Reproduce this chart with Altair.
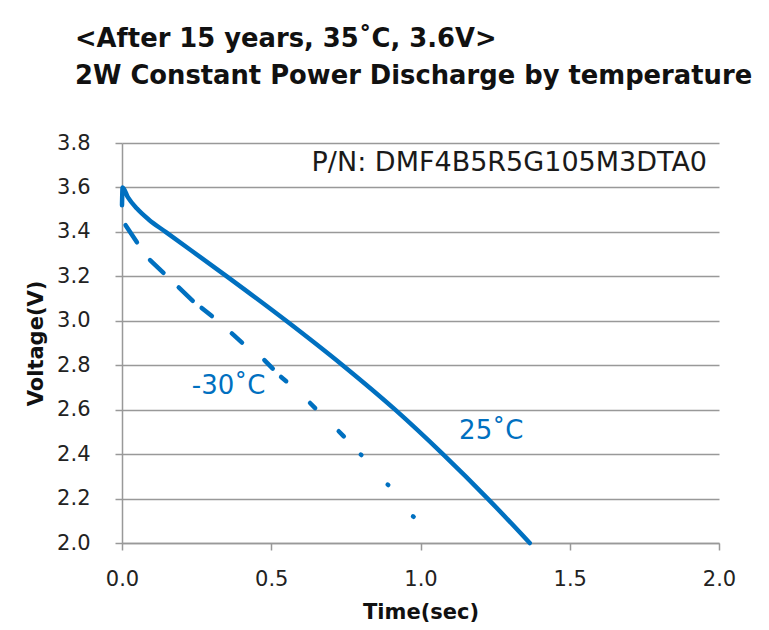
import altair as alt
import pandas as pd

# 25 C curve (time s, voltage V)
t25 = [0.0, 0.002, 0.02, 0.05, 0.09, 0.146, 0.351, 0.550, 0.739, 0.915, 1.075, 1.225, 1.366]
v25 = [3.52, 3.60, 3.555, 3.505, 3.455, 3.40, 3.20, 3.00, 2.80, 2.60, 2.40, 2.20, 2.00]

# -30 C curve, drawn as the visible dash pieces (start/end time and voltage)
m30_t0 = [0.012, 0.094, 0.190, 0.267, 0.368, 0.477, 0.533, 0.630, 0.726, 0.800, 0.890, 0.975]
m30_t1 = [0.050, 0.139, 0.237, 0.301, 0.402, 0.505, 0.550, 0.647, 0.743, 0.802, 0.892, 0.977]
m30_v0 = [3.430, 3.273, 3.150, 3.058, 2.943, 2.823, 2.747, 2.630, 2.503, 2.398, 2.263, 2.120]
m30_v1 = [3.353, 3.216, 3.090, 3.021, 2.902, 2.785, 2.728, 2.607, 2.480, 2.396, 2.261, 2.118]

labels = ["-30˚C", "25˚C"]
label_t = [0.357, 1.237]
label_v = [2.705, 2.503]

pn_text = ["P/N: DMF4B5R5G105M3DTA0"]
pn_t = [1.96]
pn_v = [3.71]

title_lines = ["<After 15 years, 35˚C, 3.6V>", "2W Constant Power Discharge by temperature"]

BLUE = "#0070C0"
GRID = "#999999"

df25 = pd.DataFrame({"t": t25, "v": v25, "i": list(range(len(t25)))})
rows = []
for i in range(len(m30_t0)):
    rows.append({"seg": i, "t": m30_t0[i], "v": m30_v0[i], "o": 0})
    rows.append({"seg": i, "t": m30_t1[i], "v": m30_v1[i], "o": 1})
dfm30 = pd.DataFrame(rows)
dflab = pd.DataFrame({"t": label_t, "v": label_v, "text": labels})
dfpn = pd.DataFrame({"t": pn_t, "v": pn_v, "text": pn_text})

xscale = alt.Scale(domain=[0, 2.0], nice=False, zero=False)
yscale = alt.Scale(domain=[2.0, 3.8], nice=False, zero=False)

xaxis = alt.Axis(title="Time(sec)", values=[0, 0.5, 1.0, 1.5, 2.0], format=".1f",
                 grid=False, domainColor=GRID, domainWidth=1.5, tickColor=GRID, tickWidth=1.5,
                 tickSize=7, labelFontSize=21, labelFont="DejaVu Sans", labelColor="#222222",
                 labelPadding=18, labelFlush=False, titleFont="DejaVu Sans", titleFontSize=21,
                 titleFontWeight="bold", titleColor="#111111", titlePadding=12)
yaxis = alt.Axis(title="Voltage(V)", values=[2.0, 2.2, 2.4, 2.6, 2.8, 3.0, 3.2, 3.4, 3.6, 3.8],
                 format=".1f", grid=True, gridColor=GRID, gridWidth=1.5, domainColor=GRID,
                 domainWidth=1.5, tickColor=GRID, tickWidth=1.5, tickSize=7,
                 labelFontSize=21, labelFont="DejaVu Sans", labelColor="#222222", labelPadding=25,
                 titleFont="DejaVu Sans", titleFontSize=21, titleFontWeight="bold",
                 titleColor="#111111", titlePadding=10)

line25 = alt.Chart(df25).mark_line(color=BLUE, strokeWidth=4.5, strokeCap="round",
                                   strokeJoin="round", interpolate="monotone").encode(
    x=alt.X("t:Q", scale=xscale, axis=xaxis),
    y=alt.Y("v:Q", scale=yscale, axis=yaxis),
    order="i:Q",
)

linem30 = alt.Chart(dfm30).mark_line(color=BLUE, strokeWidth=4.5, strokeCap="round").encode(
    x=alt.X("t:Q", scale=xscale),
    y=alt.Y("v:Q", scale=yscale),
    detail="seg:N",
    order="o:Q",
)

lab = alt.Chart(dflab).mark_text(color=BLUE, font="DejaVu Sans", fontSize=26, align="center",
                                 baseline="middle").encode(
    x=alt.X("t:Q", scale=xscale),
    y=alt.Y("v:Q", scale=yscale),
    text="text:N",
)

pn = alt.Chart(dfpn).mark_text(color="#1a1a1a", font="DejaVu Sans", fontSize=27, align="right",
                               baseline="middle").encode(
    x=alt.X("t:Q", scale=xscale),
    y=alt.Y("v:Q", scale=yscale),
    text="text:N",
)

chart = alt.layer(line25, linem30, lab, pn).properties(
    width=597,
    height=400,
    padding={"left": 114, "top": 135, "right": 42, "bottom": 79},
    autosize=alt.AutoSizeParams(type="none"),
    title=alt.TitleParams(text=title_lines, anchor="start", frame="group", dx=-47, offset=42,
                          font="DejaVu Sans", fontSize=25.8, fontWeight="bold", color="#111111",
                          lineHeight=37),
).configure_view(stroke=None)

chart.save("out.html", embed_options={"renderer": "svg", "actions": False})
